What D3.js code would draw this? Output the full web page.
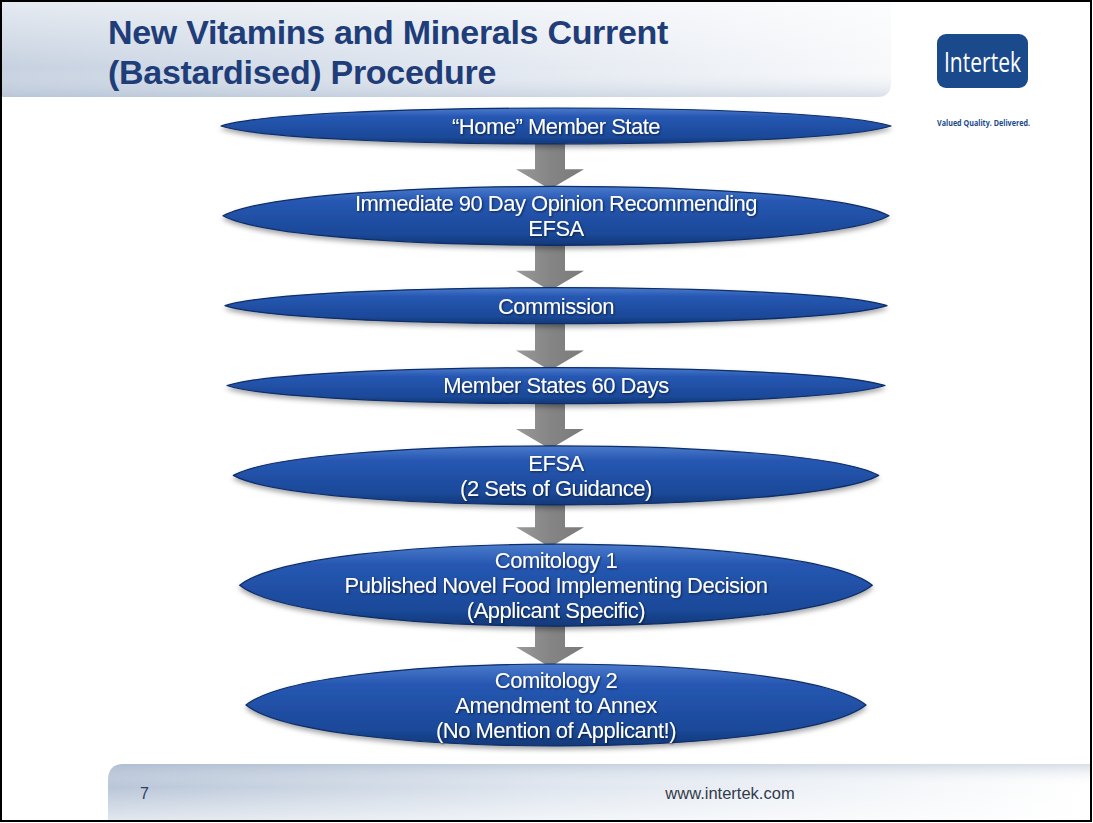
<!DOCTYPE html>
<html>
<head>
<meta charset="utf-8">
<script src="https://cdn.jsdelivr.net/npm/d3@7"></script>
<style>
  body { margin: 0; background: #fff; }
  svg { display: block; font-family: "Liberation Sans", Arial, sans-serif; }
</style>
</head>
<body>
<svg id="slide"></svg>
<script>
var svg_width = 1093;
var svg_height = 823;

// slide texts
var title_lines = ['New Vitamins and Minerals Current', '(Bastardised) Procedure'];
var logo_name = 'Intertek';
var logo_tagline = 'Valued Quality. Delivered.';
var page_number = '7';
var footer_url = 'www.intertek.com';

// procedure steps, one array of text lines per step
var step_labels = [
  ['\u201cHome\u201d Member State'],
  ['Immediate 90 Day Opinion Recommending', 'EFSA'],
  ['Commission'],
  ['Member States 60 Days'],
  ['EFSA', '(2 Sets of Guidance)'],
  ['Comitology 1', 'Published Novel Food Implementing Decision', '(Applicant Specific)'],
  ['Comitology 2', 'Amendment to Annex', '(No Mention of Applicant!)']
];

var flow_cx = 556;
var arrow_cx = 550;
var line_height = 25;

// each step takes (lines + 3) layout units; centres sit in the middle of their units
var unit_mid = [];
var unit_sum = 0;
step_labels.forEach(function(lines) {
  var w = lines.length + 3;
  unit_mid.push(unit_sum + w / 2);
  unit_sum += w;
});

var yScale = d3.scaleLinear()
  .domain([unit_mid[0], unit_mid[unit_mid.length - 1]])
  .range([126, 705]);
// oval half height grows with the number of lines, width narrows down the flow
var ryScale = d3.scaleLinear().domain([1, 3]).range([18, 41]);
var rxScale = d3.scaleLinear().domain([0, 3, 6]).range([335, 329, 310]);

var steps = step_labels.map(function(lines, i) {
  return {'lines': lines, 'index': i, 'cx': flow_cx, 'cy': yScale(unit_mid[i]),
          'rx': rxScale(i), 'ry': ryScale(lines.length)};
});

var svg = d3.select('#slide')
  .attr('width', svg_width)
  .attr('height', svg_height);

var defs = svg.append('defs');

var header_grad = defs.append('linearGradient').attr('id', 'headerGrad');
header_grad.append('stop').attr('offset', '0%').attr('stop-color', '#c6d1e0');
header_grad.append('stop').attr('offset', '55%').attr('stop-color', '#e1e7f0');
header_grad.append('stop').attr('offset', '100%').attr('stop-color', '#f8f9fb');

var header_shade = defs.append('linearGradient').attr('id', 'headerShade')
  .attr('x1', 0).attr('y1', 0).attr('x2', 0).attr('y2', 1);
header_shade.append('stop').attr('offset', '0%').attr('stop-color', '#ffffff').attr('stop-opacity', 0.55);
header_shade.append('stop').attr('offset', '70%').attr('stop-color', '#ffffff').attr('stop-opacity', 0);
header_shade.append('stop').attr('offset', '100%').attr('stop-color', '#9fb0c6').attr('stop-opacity', 0.35);

var footer_grad = defs.append('linearGradient').attr('id', 'footerGrad');
footer_grad.append('stop').attr('offset', '0%').attr('stop-color', '#b9c6d8');
footer_grad.append('stop').attr('offset', '45%').attr('stop-color', '#dfe6ef');
footer_grad.append('stop').attr('offset', '100%').attr('stop-color', '#ffffff');

var footer_shade = defs.append('linearGradient').attr('id', 'footerShade')
  .attr('x1', 0).attr('y1', 0).attr('x2', 0).attr('y2', 1);
footer_shade.append('stop').attr('offset', '0%').attr('stop-color', '#9fb0c6').attr('stop-opacity', 0.4);
footer_shade.append('stop').attr('offset', '40%').attr('stop-color', '#ffffff').attr('stop-opacity', 0);
footer_shade.append('stop').attr('offset', '100%').attr('stop-color', '#ffffff').attr('stop-opacity', 0.6);

var oval_grad = defs.append('linearGradient').attr('id', 'ovalGrad')
  .attr('x1', 0).attr('y1', 0).attr('x2', 0).attr('y2', 1);
oval_grad.append('stop').attr('offset', '0%').attr('stop-color', '#4a7bcc');
oval_grad.append('stop').attr('offset', '25%').attr('stop-color', '#2657b2');
oval_grad.append('stop').attr('offset', '80%').attr('stop-color', '#1b4999');
oval_grad.append('stop').attr('offset', '100%').attr('stop-color', '#113878');

var arrow_grad = defs.append('linearGradient').attr('id', 'arrowGrad');
arrow_grad.append('stop').attr('offset', '0%').attr('stop-color', '#9a9a9a');
arrow_grad.append('stop').attr('offset', '50%').attr('stop-color', '#858585');
arrow_grad.append('stop').attr('offset', '100%').attr('stop-color', '#7a7a7a');

defs.append('filter').attr('id', 'ovalShadow')
  .attr('x', '-10%').attr('y', '-30%').attr('width', '120%').attr('height', '170%')
  .append('feDropShadow')
  .attr('dx', 0).attr('dy', 3).attr('stdDeviation', 2.5)
  .attr('flood-color', '#000').attr('flood-opacity', 0.35);

defs.append('filter').attr('id', 'textShadow')
  .attr('x', '-10%').attr('y', '-30%').attr('width', '120%').attr('height', '170%')
  .append('feDropShadow')
  .attr('dx', 1).attr('dy', 1).attr('stdDeviation', 1)
  .attr('flood-color', '#000').attr('flood-opacity', 0.6);

// header band with rounded lower right corner
var hx0 = 2, hy0 = 2, hx1 = 891, hy1 = 97, hr = 14;
var header_path = d3.path();
header_path.moveTo(hx0, hy0);
header_path.lineTo(hx1, hy0);
header_path.lineTo(hx1, hy1 - hr);
header_path.quadraticCurveTo(hx1, hy1, hx1 - hr, hy1);
header_path.lineTo(hx0, hy1);
header_path.closePath();
svg.append('path').attr('d', header_path.toString()).attr('fill', 'url(#headerGrad)');
svg.append('path').attr('d', header_path.toString()).attr('fill', 'url(#headerShade)');

// footer band with rounded upper left corner
var fx0 = 108, fy0 = 764, fx1 = 1091, fy1 = 821, fr = 16;
var footer_path = d3.path();
footer_path.moveTo(fx0, fy1);
footer_path.lineTo(fx0, fy0 + fr);
footer_path.quadraticCurveTo(fx0, fy0, fx0 + fr, fy0);
footer_path.lineTo(fx1, fy0);
footer_path.lineTo(fx1, fy1);
footer_path.closePath();
svg.append('path').attr('d', footer_path.toString()).attr('fill', 'url(#footerGrad)');
svg.append('path').attr('d', footer_path.toString()).attr('fill', 'url(#footerShade)');

// title
svg.append('g')
  .selectAll('text')
  .data(title_lines)
  .enter()
  .append('text')
  .attr('x', 108)
  .attr('y', function(d, i) { return 44 + i * 40; })
  .attr('fill', '#1f3d78')
  .attr('font-size', 34)
  .attr('font-weight', 'bold')
  .attr('letter-spacing', -0.3)
  .text(function(d) { return d; });

// logo
var logo = svg.append('g');
logo.append('rect')
  .attr('x', 937).attr('y', 34).attr('width', 91).attr('height', 54).attr('rx', 9)
  .attr('fill', '#1b4a8c');
logo.append('text')
  .attr('x', 944).attr('y', 72)
  .attr('fill', '#fff')
  .attr('font-family', '"Open Sans", "Liberation Sans", sans-serif')
  .attr('font-size', 28)
  .attr('textLength', 77)
  .attr('lengthAdjust', 'spacingAndGlyphs')
  .text(logo_name);
logo.append('text')
  .attr('x', 937).attr('y', 126)
  .attr('fill', '#1b4a8c')
  .attr('font-family', '"Open Sans", "Liberation Sans", sans-serif')
  .attr('font-weight', 'bold')
  .attr('font-size', 9)
  .attr('textLength', 93)
  .attr('lengthAdjust', 'spacingAndGlyphs')
  .text(logo_tagline);

// arrows between consecutive steps
var arrow_line = d3.line();
function arrow_points(y0, y1) {
  var head_h = 20, shaft_w = 15, head_w = 34;
  var yh = y1 - head_h;
  return [
    [arrow_cx - shaft_w, y0], [arrow_cx + shaft_w, y0], [arrow_cx + shaft_w, yh],
    [arrow_cx + head_w, yh], [arrow_cx, y1], [arrow_cx - head_w, yh],
    [arrow_cx - shaft_w, yh]
  ];
}

svg.append('g')
  .selectAll('path')
  .data(d3.pairs(steps))
  .enter()
  .append('path')
  .attr('d', function(d) {
    var y0 = d[0].cy + d[0].ry - 4;
    var y1 = d[1].cy - d[1].ry + 3;
    return arrow_line(arrow_points(y0, y1)) + 'Z';
  })
  .attr('fill', 'url(#arrowGrad)');

// oval that is full in the middle and tapers to slightly pointed tips
function oval_path(d) {
  var k = 0.78, c = 4 / 3;
  var p = d3.path();
  p.moveTo(d.cx - d.rx, d.cy);
  p.bezierCurveTo(d.cx - d.rx * k, d.cy - d.ry * c, d.cx + d.rx * k, d.cy - d.ry * c, d.cx + d.rx, d.cy);
  p.bezierCurveTo(d.cx + d.rx * k, d.cy + d.ry * c, d.cx - d.rx * k, d.cy + d.ry * c, d.cx - d.rx, d.cy);
  p.closePath();
  return p.toString();
}

var step_groups = svg.append('g')
  .selectAll('g')
  .data(steps)
  .enter()
  .append('g');

step_groups.append('path')
  .attr('d', oval_path)
  .attr('fill', 'url(#ovalGrad)')
  .attr('stroke', '#0e2d66')
  .attr('stroke-width', 1.2)
  .attr('stroke-linejoin', 'round')
  .attr('filter', 'url(#ovalShadow)');

step_groups.append('text')
  .attr('text-anchor', 'middle')
  .attr('fill', '#fff')
  .attr('font-size', 22)
  .attr('letter-spacing', -0.5)
  .attr('filter', 'url(#textShadow)')
  .each(function(d) {
    var n = d.lines.length;
    d3.select(this)
      .selectAll('tspan')
      .data(d.lines)
      .enter()
      .append('tspan')
      .attr('x', d.cx)
      .attr('y', function(l, i) { return d.cy + (i - (n - 1) / 2) * line_height + 2; })
      .attr('dominant-baseline', 'middle')
      .text(function(l) { return l; });
  });

// footer texts
svg.append('text')
  .attr('x', 140).attr('y', 799)
  .attr('fill', '#2b3f63')
  .attr('font-size', 16)
  .text(page_number);
svg.append('text')
  .attr('x', 730).attr('y', 799)
  .attr('text-anchor', 'middle')
  .attr('fill', '#333b4a')
  .attr('font-size', 16.5)
  .text(footer_url);

// slide border
svg.append('rect')
  .attr('x', 1).attr('y', 1).attr('width', svg_width - 3).attr('height', svg_height - 3)
  .attr('fill', 'none')
  .attr('stroke', '#000')
  .attr('stroke-width', 2);
</script>
</body>
</html>
